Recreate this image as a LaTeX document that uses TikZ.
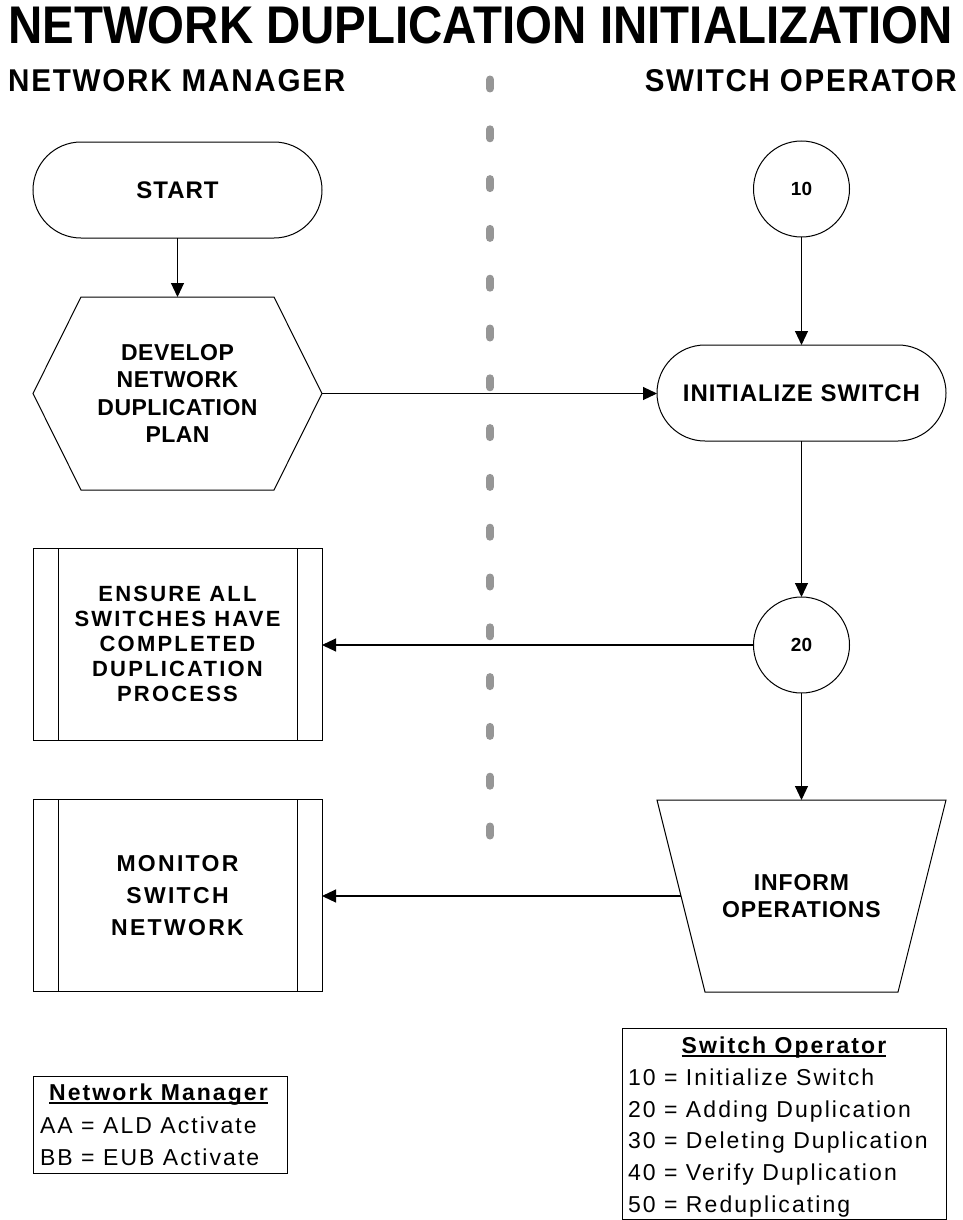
\documentclass[tikz,border=0pt]{standalone}
\usepackage{fontspec}
\setmainfont{Liberation Sans}
\newfontfamily\keyfont[LetterSpace=9]{Liberation Sans}
\usetikzlibrary{shapes.misc,arrows.meta,calc}
\definecolor{lanegray}{RGB}{150,150,150}

\begin{document}
\begin{tikzpicture}[x=1pt,y=-1pt,
  outline/.style={draw=black,line width=1pt},
  flow/.style={draw=black,line width=1.1pt,-{Triangle[length=14pt,width=13pt]}},
  divider/.style={draw=lanegray,line width=8pt,line cap=round},
  stadium/.style={rounded rectangle,outline,minimum width=289pt,minimum height=96pt,
    inner sep=0pt,outer sep=0pt,font=\bfseries\fontsize{24}{28}\selectfont\addfontfeature{LetterSpace=4}},
  bubble/.style={circle,outline,minimum size=96pt,inner sep=0pt,outer sep=0pt,
    font=\bfseries\fontsize{19}{22}\selectfont},
  frame/.style={rectangle,minimum width=289pt,minimum height=192pt,inner sep=0pt,outer sep=0pt,align=center},
  procbox/.style={frame,outline},
  keytext/.style={inner sep=0pt,outer sep=0pt,font=\keyfont\fontsize{23}{26}\selectfont}
]
\useasboundingbox (0,0) rectangle (963,1220);

% headings
\node[anchor=south west,inner sep=0pt] (title) at (8,44)
  {\resizebox{944pt}{37pt}{\bfseries NETWORK DUPLICATION INITIALIZATION}};
\node[anchor=south west,inner sep=0pt] (mgr) at (8,92)
  {\resizebox{337pt}{22pt}{\bfseries\addfontfeature{LetterSpace=6}NETWORK MANAGER}};
\node[anchor=south east,inner sep=0pt] (opr) at (957,92)
  {\resizebox{312pt}{22pt}{\bfseries\addfontfeature{LetterSpace=6}SWITCH OPERATOR}};

% lane divider
\foreach \k in {0,...,15}
  \draw[divider] (490,{79.5+\k*49.8}) -- ++(0,9);

% network manager lane
\node[stadium] (start) at (177.5,190) {START};

\node[frame,minimum height=193pt,font=\bfseries\fontsize{23}{27.5}\selectfont\addfontfeature{LetterSpace=2}] (dev) at (177.5,393.5)
  {DEVELOP\\NETWORK\\DUPLICATION\\PLAN};
\draw[outline] ([xshift=48pt]dev.north west) -- ([xshift=-48pt]dev.north east) -- (dev.east)
  -- ([xshift=-48pt]dev.south east) -- ([xshift=48pt]dev.south west) -- (dev.west) -- cycle;

\node[procbox,font=\bfseries\fontsize{22}{25}\selectfont\addfontfeature{LetterSpace=10}] (ens) at (177.5,644)
  {ENSURE ALL\\SWITCHES HAVE\\COMPLETED\\DUPLICATION\\PROCESS};
\draw[outline] ([xshift=25pt]ens.north west) -- ([xshift=25pt]ens.south west);
\draw[outline] ([xshift=-25pt]ens.north east) -- ([xshift=-25pt]ens.south east);

\node[procbox,font=\bfseries\fontsize{23}{31.7}\selectfont\addfontfeature{LetterSpace=10}] (mon) at (177.5,895.5)
  {MONITOR\\SWITCH\\NETWORK};
\draw[outline] ([xshift=25pt]mon.north west) -- ([xshift=25pt]mon.south west);
\draw[outline] ([xshift=-25pt]mon.north east) -- ([xshift=-25pt]mon.south east);

% switch operator lane
\node[bubble] (c10) at (801.5,189) {10};
\node[stadium] (init) at (801.5,393) {INITIALIZE SWITCH};
\node[bubble] (c20) at (801.5,645) {20};

\node[frame,font=\bfseries\fontsize{23}{27}\selectfont\addfontfeature{LetterSpace=4}] (inf) at (801.5,896)
  {INFORM\\OPERATIONS};
\draw[outline] (inf.north west) -- (inf.north east) -- ([xshift=-48pt]inf.south east)
  -- ([xshift=48pt]inf.south west) -- cycle;
\coordinate (infin) at ([xshift=24pt]inf.west);

% connectors
\draw[flow] (start) -- (dev);
\draw[flow] (dev.east) -- (dev.east -| init.west);
\draw[flow] (c10) -- (init);
\draw[flow] (init) -- (c20);
\draw[flow] (c20.west) -- (c20.west -| ens.east);
\draw[flow] (c20.south) -- (inf.north);
\draw[flow] (infin) -- (infin -| mon.east);

% key: network manager
\draw[outline] (33,1076) rectangle (287,1173);
\node[keytext,anchor=base] (nmhead) at (158.5,1100) {\bfseries Network Manager};
\draw[line width=1.3pt] ([yshift=-3pt]nmhead.base west) -- ([yshift=-3pt]nmhead.base east);
\node[keytext,anchor=base west] (aa) at (40,1133) {AA = ALD Activate};
\node[keytext,anchor=base west] (bb) at (40,1165) {BB = EUB Activate};

% key: switch operator
\draw[outline] (622,1028) rectangle (946,1219);
\node[keytext,anchor=base] (sohead) at (784,1053) {\bfseries Switch Operator};
\draw[line width=1.3pt] ([yshift=-3pt]sohead.base west) -- ([yshift=-3pt]sohead.base east);
\node[keytext,anchor=base west] (k10) at (628,1085) {10 = Initialize Switch};
\node[keytext,anchor=base west] (k20) at (628,1117) {20 = Adding Duplication};
\node[keytext,anchor=base west] (k30) at (628,1148) {30 = Deleting Duplication};
\node[keytext,anchor=base west] (k40) at (628,1180) {40 = Verify Duplication};
\node[keytext,anchor=base west] (k50) at (628,1212) {50 = Reduplicating};
\end{tikzpicture}
\end{document}
